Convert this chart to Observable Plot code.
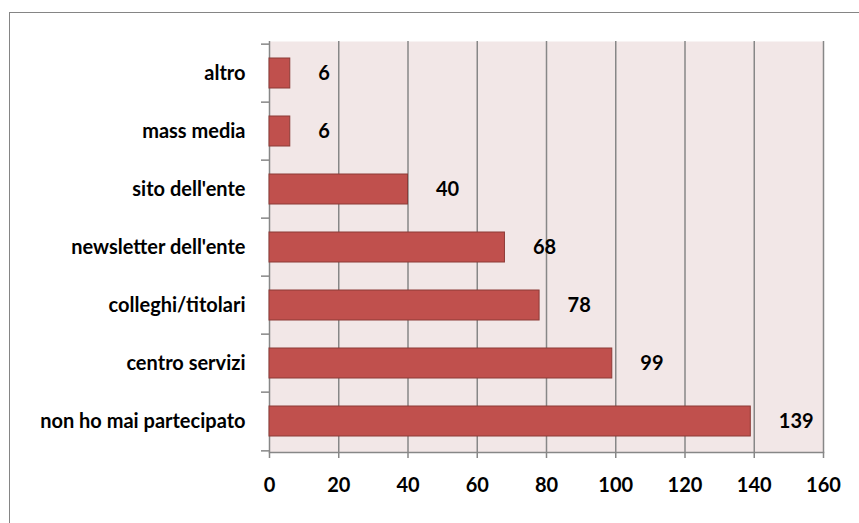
<!DOCTYPE html>
<html>
<head>
<meta charset="utf-8">
<script src="https://cdn.jsdelivr.net/npm/d3@7"></script>
<script src="https://cdn.jsdelivr.net/npm/@observablehq/plot@0.6"></script>
<style>
  html, body { margin: 0; padding: 0; background: #fff; }
  #wrap { position: relative; width: 859px; height: 523px; overflow: hidden; }
  #border { position: absolute; left: 9px; top: 12px; width: 870px; height: 540px; border: 1.5px solid #858585; box-sizing: border-box; pointer-events: none; }
  #chart { position: absolute; left: 0; top: 0; }
</style>
</head>
<body>
<div id="wrap"><div id="chart"></div><div id="border"></div></div>
<script>
const categories = ["altro", "mass media", "sito dell'ente", "newsletter dell'ente", "colleghi/titolari", "centro servizi", "non ho mai partecipato"];
const values = [6, 6, 40, 68, 78, 99, 139];
const xTicks = [0, 20, 40, 60, 80, 100, 120, 140, 160];

const data = categories.map((c, i) => ({category: c, value: values[i]}));

const W = 859, H = 523;
const mL = 269, mR = 36, mT = 41, mB = 71;
const bw = (H - mT - mB) / categories.length;
const font = "Lato, 'Open Sans', sans-serif";
const fs = 20;

const chart = Plot.plot({
  width: W,
  height: H,
  marginLeft: mL,
  marginRight: mR,
  marginTop: mT,
  marginBottom: mB,
  style: {fontFamily: font, fontWeight: "bold", fontSize: fs + "px", color: "#000", background: "transparent"},
  x: {domain: [0, 160]},
  y: {domain: categories, paddingInner: 0.49, paddingOuter: 0.245, align: 0.5},
  marks: [
    Plot.frame({fill: "#f2e7e7", stroke: null}),
    Plot.gridX({ticks: xTicks.filter(t => t > 0), stroke: "#878787", strokeOpacity: 1, strokeWidth: 1.5}),
    Plot.ruleX([0], {stroke: "#878787", strokeWidth: 1.5}),
    Plot.frame({anchor: "bottom", stroke: "#878787", strokeWidth: 1.5}),
    Plot.barX(data, {x: "value", y: "category", fill: "#c0504d", stroke: "#8c3a37", strokeWidth: 1}),
    Plot.text(data, {x: "value", y: "category", text: d => String(d.value), textAnchor: "start", dx: 28, fontSize: fs, fontWeight: "bold", fill: "#000"}),
    Plot.axisY({tickSize: 0, tickPadding: 24, fontSize: fs, fontWeight: "bold", fill: "#000", label: null}),
    Plot.axisY({tickSize: 8, dy: -bw / 2, tickFormat: () => "", stroke: "#878787", strokeWidth: 1.5, label: null}),
    Plot.axisY({ticks: [categories[categories.length - 1]], tickSize: 8, dy: bw / 2, tickFormat: () => "", stroke: "#878787", strokeWidth: 1.5, label: null}),
    Plot.axisX({ticks: xTicks, tickSize: 6, tickPadding: 19, stroke: "#878787", strokeWidth: 1.5, fontSize: fs, fontWeight: "bold", fill: "#000", label: null})
  ]
});
document.getElementById("chart").appendChild(chart);
</script>
</body>
</html>
